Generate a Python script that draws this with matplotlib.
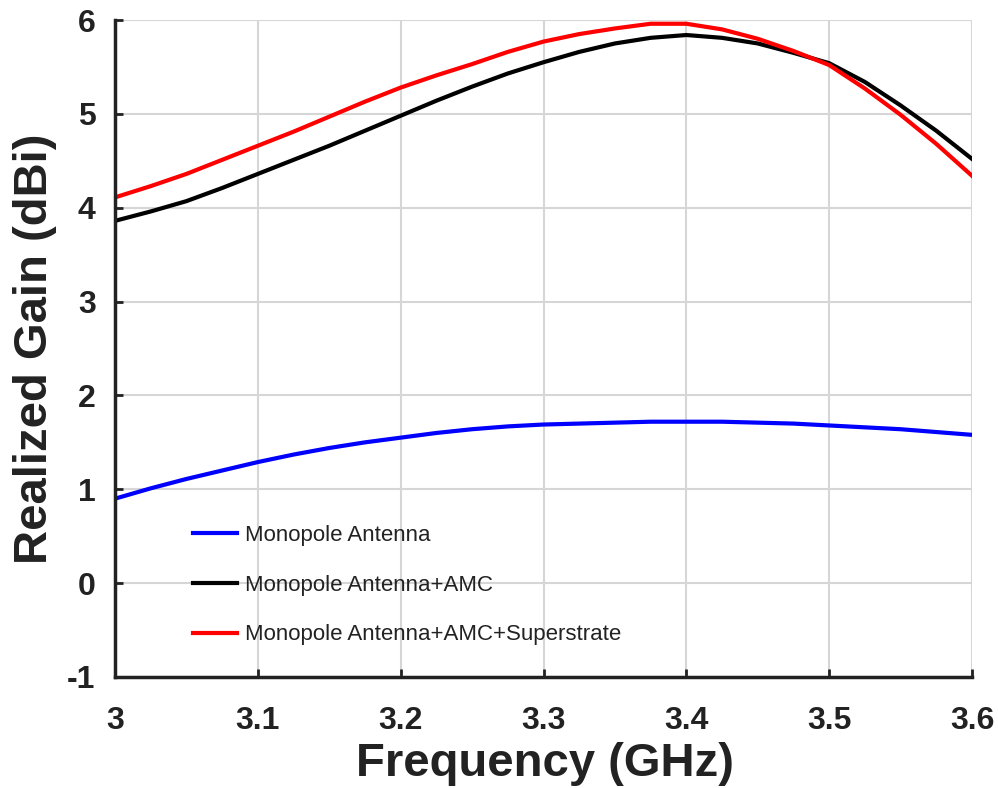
import numpy as np
from matplotlib import pyplot as plt

plt.rcParams["axes.unicode_minus"] = False

# frequency sweep (GHz)
freq = [3.000, 3.025, 3.050, 3.075, 3.100, 3.125, 3.150, 3.175, 3.200, 3.225, 3.250, 3.275, 3.300,
        3.325, 3.350, 3.375, 3.400, 3.425, 3.450, 3.475, 3.500, 3.525, 3.550, 3.575, 3.600]

# realized gain (dBi)
gain_mono = [0.90, 1.01, 1.11, 1.20, 1.29, 1.37, 1.44, 1.50, 1.55, 1.60, 1.64, 1.67, 1.69,
             1.70, 1.71, 1.72, 1.72, 1.72, 1.71, 1.70, 1.68, 1.66, 1.64, 1.61, 1.58]
gain_amc = [3.86, 3.96, 4.07, 4.21, 4.36, 4.51, 4.66, 4.82, 4.98, 5.14, 5.29, 5.43, 5.55,
            5.66, 5.75, 5.81, 5.84, 5.81, 5.75, 5.65, 5.54, 5.34, 5.09, 4.82, 4.52]
gain_sup = [4.11, 4.23, 4.36, 4.51, 4.66, 4.81, 4.97, 5.13, 5.28, 5.41, 5.53, 5.66, 5.77,
            5.85, 5.91, 5.96, 5.96, 5.90, 5.80, 5.67, 5.52, 5.27, 4.99, 4.68, 4.34]

labels = ["Monopole Antenna", "Monopole Antenna+AMC", "Monopole Antenna+AMC+Superstrate"]
colors = ["#0000ff", "#000000", "#ff0000"]
ink = "#222222"

fig = plt.figure(figsize=(9.98, 7.88), dpi=100)
ax = fig.add_axes([115 / 998, 1 - 677 / 788, (972 - 115) / 998, (677 - 20) / 788])

for g, lab, c in zip([gain_mono, gain_amc, gain_sup], labels, colors):
    ax.plot(freq, g, color=c, lw=3, label=lab)

ax.set_xlim(3, 3.6)
ax.set_ylim(-1, 6)
ax.set_xticks(np.arange(3, 3.61, 0.1))
ax.set_xticklabels(["3", "3.1", "3.2", "3.3", "3.4", "3.5", "3.6"])
ax.set_yticks(range(-1, 7))

ax.grid(True, color="#d6d6d6", lw=1.5)
ax.set_axisbelow(True)
for s in ["top", "right"]:
    ax.spines[s].set_visible(False)
for s in ["left", "bottom"]:
    ax.spines[s].set_linewidth(2.5)
    ax.spines[s].set_color(ink)

ax.tick_params(direction="in", length=6, width=2, color=ink)
ax.tick_params(axis="x", pad=21)
ax.tick_params(axis="y", pad=14)
for t in ax.get_xticklabels() + ax.get_yticklabels():
    t.set_fontfamily("Liberation Sans")
    t.set_fontweight("bold")
    t.set_fontsize(23)
    t.set_color(ink)

ax.set_xlabel("Frequency (GHz)", fontsize=34, fontweight="bold", family="Liberation Sans", color=ink)
ax.set_ylabel("Realized Gain (dBi)", fontsize=34, fontweight="bold", family="Liberation Sans", color=ink)
ax.xaxis.set_label_coords(0.502, -0.099)
ax.yaxis.set_label_coords(-0.068, 0.5)

leg_size = 16
fs = leg_size / 72 * 100  # px
leg = ax.legend(loc="center left", bbox_to_anchor=((193 - 115 - 0.4 * fs) / 857, (677 - 585) / 657),
                frameon=False, prop={"family": "Liberation Sans", "size": leg_size},
                handlelength=44 / fs, handletextpad=8 / fs, labelspacing=(51 - fs) / fs,
                borderpad=0.4, borderaxespad=0)
for t in leg.get_texts():
    t.set_color(ink)

fig.savefig("out.png", dpi=100)
